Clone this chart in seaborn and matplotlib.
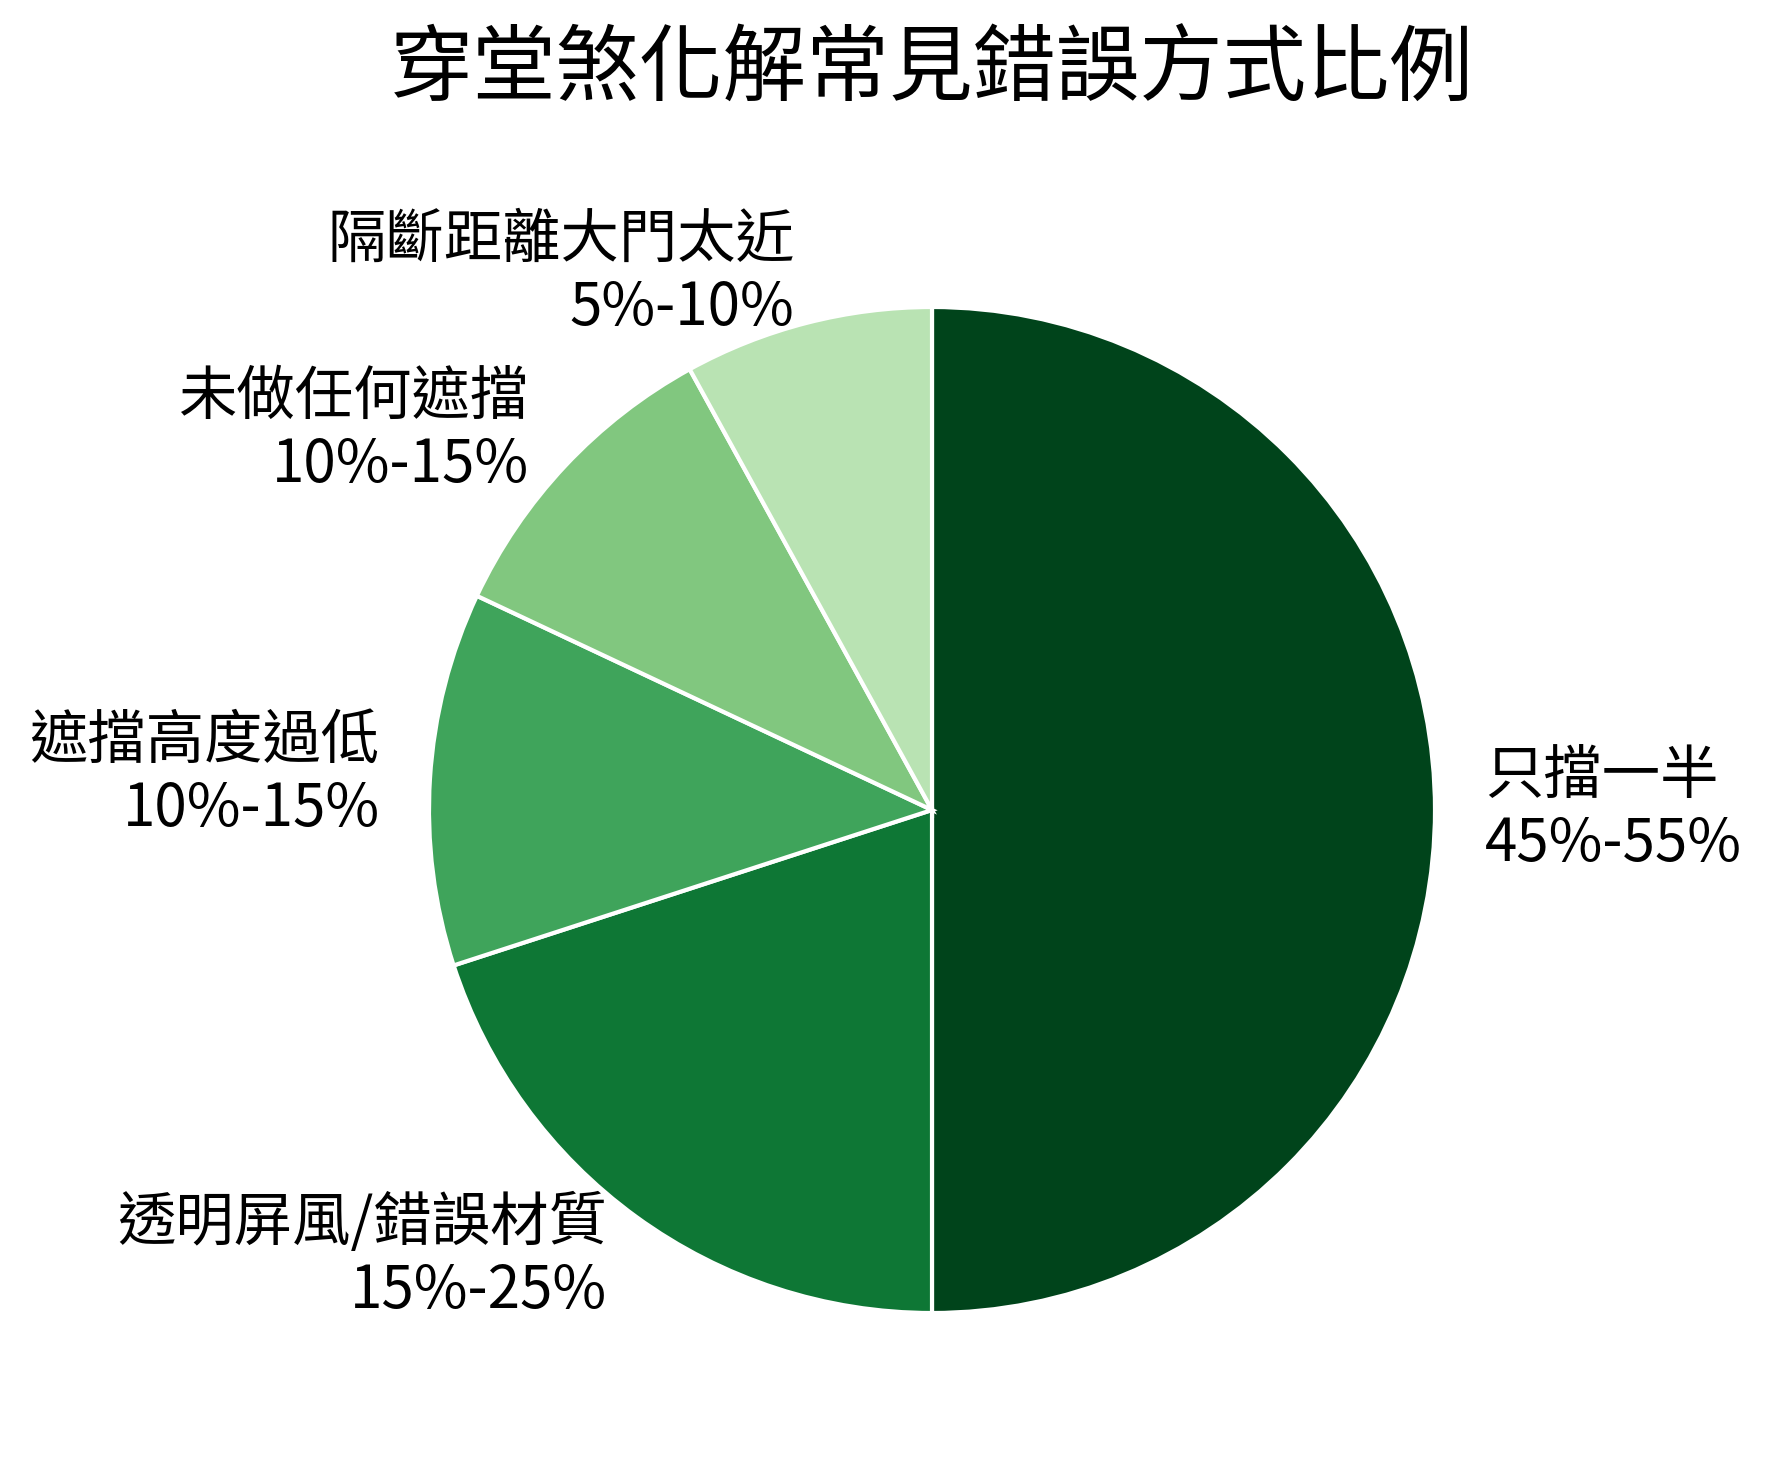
import matplotlib
matplotlib.use("Agg")
import matplotlib.pyplot as plt
import seaborn as sns

# Share of each common mistake (slice sizes) and the range shown in its label
categories = ["只擋一半", "透明屏風/錯誤材質", "遮擋高度過低", "未做任何遮擋", "隔斷距離大門太近"]
shares = [50, 20, 12, 10, 8]
ranges = ["45%-55%", "15%-25%", "10%-15%", "10%-15%", "5%-10%"]
colors = ["#00441b", "#0e7735", "#3fa45b", "#81c77f", "#b9e3b3"]

sns.set_theme(style="white")
plt.rcParams["font.family"] = ["Noto Sans CJK TC", "DejaVu Sans"]

fig = plt.figure(figsize=(17.72, 14.68), dpi=100)

# place the pie so the circle sits where it does in the reference
W, H = 1772, 1468
cx, cy, r = 932, 810, 503
ax = fig.add_axes([(cx - r) / W, 1 - (cy + r) / H, 2 * r / W, 2 * r / H])

labels = [f"{c}\n{rg}" for c, rg in zip(categories, ranges)]
wedges, texts = ax.pie(
    shares,
    labels=labels,
    colors=colors,
    startangle=90,
    counterclock=False,
    labeldistance=1.1,
    wedgeprops={"edgecolor": "white", "linewidth": 3},
    textprops={"fontsize": 42, "color": "black", "linespacing": 1.15},
)
ax.set_xlim(-1, 1)
ax.set_ylim(-1, 1)
ax.set_aspect("equal")

fig.text(cx / W, 1 - 71 / H, "穿堂煞化解常見錯誤方式比例",
         ha="center", va="center", fontsize=60, color="black")

fig.savefig("out.png", dpi=100, facecolor="white")
